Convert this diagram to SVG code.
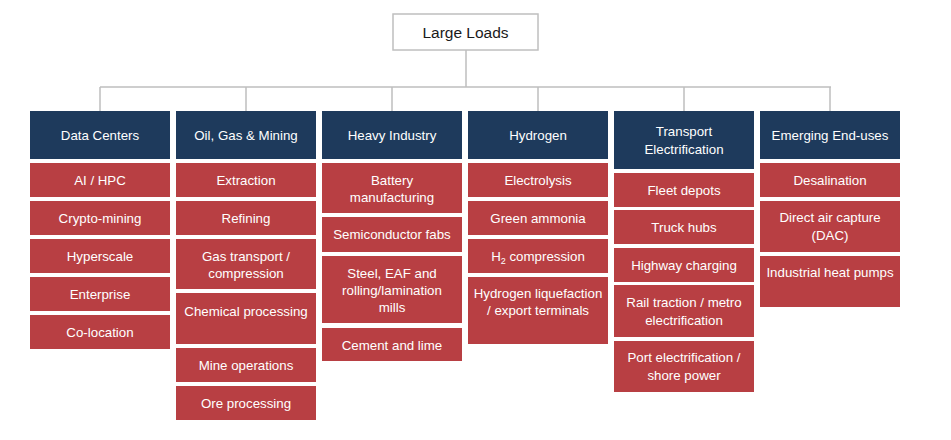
<svg xmlns="http://www.w3.org/2000/svg" width="951" height="440" viewBox="0 0 951 440">
<style>
.t{font-family:"Liberation Sans",Arial,sans-serif;font-size:13.3px;fill:#ffffff;text-anchor:middle}
.root{font-family:"Liberation Sans",Arial,sans-serif;font-size:15.5px;fill:#1a1a1a;text-anchor:middle}
.h{fill:#1e3a5c}
.i{fill:#b83f43}
.c{stroke:#bfbfbf;stroke-width:1.5;fill:none}
.sub{font-size:9px}
</style>
<rect width="951" height="440" fill="#ffffff"/>
<g id="connectors">
<path class="c" d="M466 50V87M100 87H831M100 87V111M246 87V111M392 87V111M538 87V111M684 87V111M830 87V111"/>
</g>
<g id="root">
<rect x="393" y="14" width="145" height="36" fill="#ffffff" stroke="#bfbfbf" stroke-width="1.5"/>
<text class="root" x="465.5" y="37.5">Large Loads</text>
</g>
<g id="col-data-centers">
<g id="data-centers"><rect class="h" x="30" y="111" width="140" height="48"/><text class="t" x="100" y="139.5">Data Centers</text></g>
<g id="ai-hpc"><rect class="i" x="30" y="163" width="140" height="34"/><text class="t" x="100" y="184.5">AI / HPC</text></g>
<g id="crypto-mining"><rect class="i" x="30" y="201" width="140" height="34"/><text class="t" x="100" y="222.5">Crypto-mining</text></g>
<g id="hyperscale"><rect class="i" x="30" y="239" width="140" height="34"/><text class="t" x="100" y="260.5">Hyperscale</text></g>
<g id="enterprise"><rect class="i" x="30" y="277" width="140" height="34"/><text class="t" x="100" y="298.5">Enterprise</text></g>
<g id="co-location"><rect class="i" x="30" y="315" width="140" height="34"/><text class="t" x="100" y="336.5">Co-location</text></g>
</g>
<g id="col-oil-gas">
<g id="oil-gas-mining"><rect class="h" x="176" y="111" width="140" height="48"/><text class="t" x="246" y="139.5">Oil, Gas &amp; Mining</text></g>
<g id="extraction"><rect class="i" x="176" y="163" width="140" height="34"/><text class="t" x="246" y="184.5">Extraction</text></g>
<g id="refining"><rect class="i" x="176" y="201" width="140" height="34"/><text class="t" x="246" y="222.5">Refining</text></g>
<g id="gas-transport"><rect class="i" x="176" y="239" width="140" height="50"/><text class="t" x="246" y="260.5">Gas transport /</text><text class="t" x="246" y="277.5">compression</text></g>
<g id="chemical-processing"><rect class="i" x="176" y="293" width="140" height="51"/><text class="t" x="246" y="315.5">Chemical processing</text></g>
<g id="mine-operations"><rect class="i" x="176" y="348" width="140" height="34"/><text class="t" x="246" y="369.5">Mine operations</text></g>
<g id="ore-processing"><rect class="i" x="176" y="386" width="140" height="34"/><text class="t" x="246" y="407.5">Ore processing</text></g>
</g>
<g id="col-heavy-industry">
<g id="heavy-industry"><rect class="h" x="322" y="111" width="140" height="48"/><text class="t" x="392" y="139.5">Heavy Industry</text></g>
<g id="battery"><rect class="i" x="322" y="163" width="140" height="50"/><text class="t" x="392" y="184.5">Battery</text><text class="t" x="392" y="201.5">manufacturing</text></g>
<g id="semiconductor"><rect class="i" x="322" y="217" width="140" height="35"/><text class="t" x="392" y="239">Semiconductor fabs</text></g>
<g id="steel"><rect class="i" x="322" y="256" width="140" height="67"/><text class="t" x="392" y="277.5">Steel, EAF and</text><text class="t" x="392" y="294.5">rolling/lamination</text><text class="t" x="392" y="311.5">mills</text></g>
<g id="cement"><rect class="i" x="322" y="328" width="140" height="33"/><text class="t" x="392" y="349.5">Cement and lime</text></g>
</g>
<g id="col-hydrogen">
<g id="hydrogen"><rect class="h" x="468" y="111" width="140" height="48"/><text class="t" x="538" y="139.5">Hydrogen</text></g>
<g id="electrolysis"><rect class="i" x="468" y="163" width="140" height="34"/><text class="t" x="538" y="184.5">Electrolysis</text></g>
<g id="green-ammonia"><rect class="i" x="468" y="201" width="140" height="34"/><text class="t" x="538" y="222.5">Green ammonia</text></g>
<g id="h2-compression"><rect class="i" x="468" y="239" width="140" height="34"/><text class="t" x="538" y="260.5">H<tspan class="sub" dy="3">2</tspan><tspan dy="-3"> compression</tspan></text></g>
<g id="h2-liquefaction"><rect class="i" x="468" y="277" width="140" height="67"/><text class="t" x="538" y="297.5">Hydrogen liquefaction</text><text class="t" x="538" y="315">/ export terminals</text></g>
</g>
<g id="col-transport">
<g id="transport"><rect class="h" x="614" y="111" width="140" height="58"/><text class="t" x="684" y="136">Transport</text><text class="t" x="684" y="153.5">Electrification</text></g>
<g id="fleet-depots"><rect class="i" x="614" y="173" width="140" height="34"/><text class="t" x="684" y="194.5">Fleet depots</text></g>
<g id="truck-hubs"><rect class="i" x="614" y="210" width="140" height="34"/><text class="t" x="684" y="231.5">Truck hubs</text></g>
<g id="highway-charging"><rect class="i" x="614" y="248" width="140" height="34"/><text class="t" x="684" y="269.5">Highway charging</text></g>
<g id="rail-traction"><rect class="i" x="614" y="285" width="140" height="52"/><text class="t" x="684" y="307">Rail traction / metro</text><text class="t" x="684" y="324.5">electrification</text></g>
<g id="port-electrification"><rect class="i" x="614" y="341" width="140" height="51"/><text class="t" x="684" y="362">Port electrification /</text><text class="t" x="684" y="379.5">shore power</text></g>
</g>
<g id="col-emerging">
<g id="emerging"><rect class="h" x="760" y="111" width="140" height="48"/><text class="t" x="830" y="139.5">Emerging End-uses</text></g>
<g id="desalination"><rect class="i" x="760" y="163" width="140" height="34"/><text class="t" x="830" y="184.5">Desalination</text></g>
<g id="dac"><rect class="i" x="760" y="201" width="140" height="51"/><text class="t" x="830" y="222">Direct air capture</text><text class="t" x="830" y="239.5">(DAC)</text></g>
<g id="heat-pumps"><rect class="i" x="760" y="256" width="140" height="51"/><text class="t" x="830" y="277">Industrial heat pumps</text></g>
</g>
</svg>
